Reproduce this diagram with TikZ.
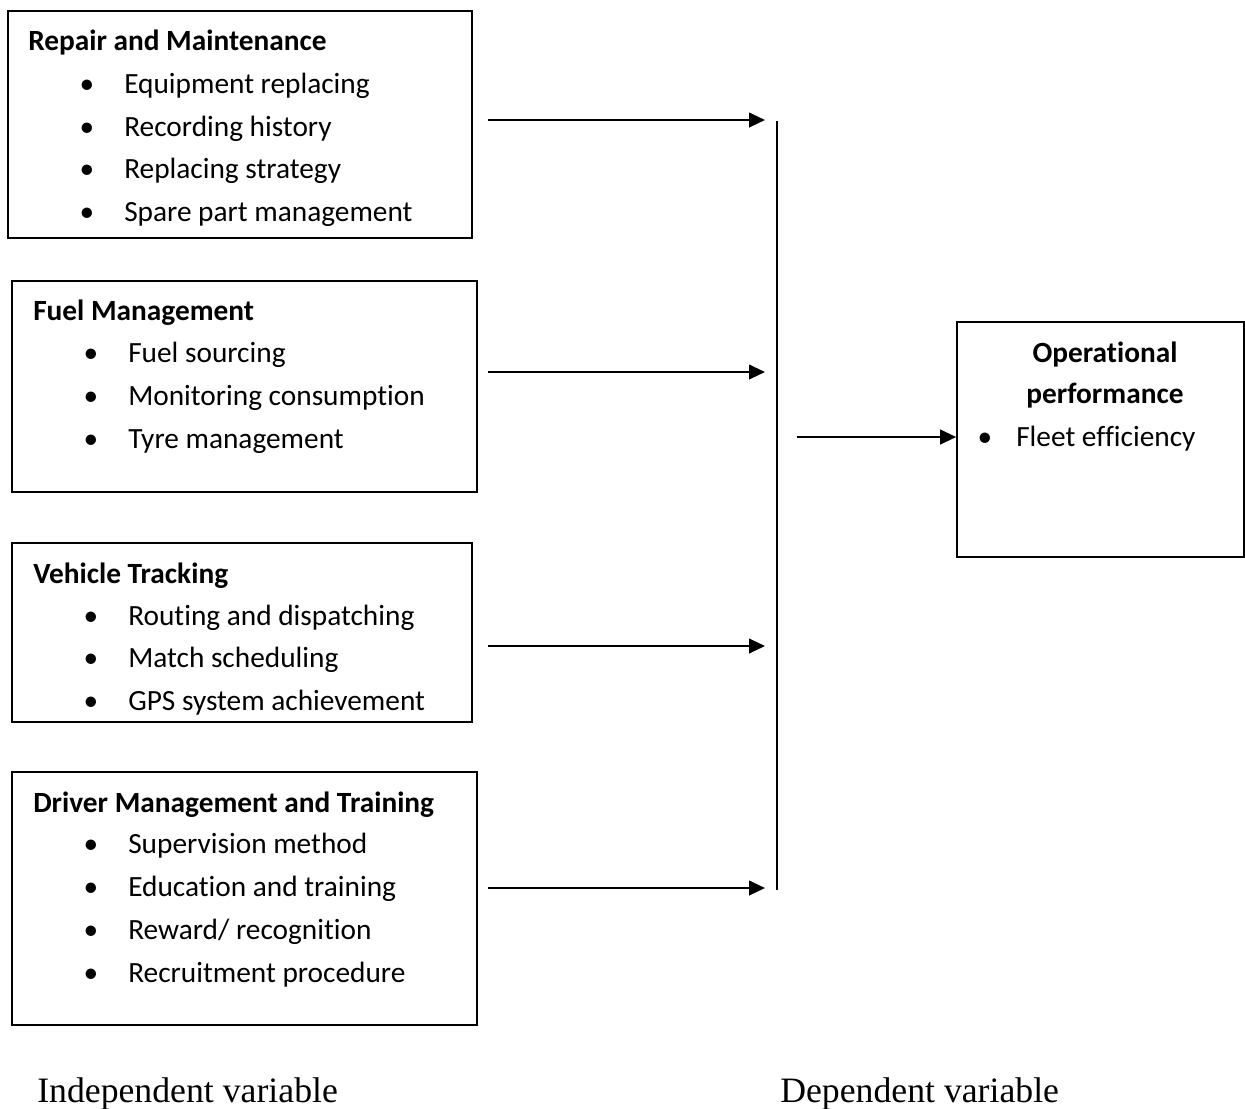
\documentclass[tikz,border=0pt]{standalone}
\usepackage{fontspec}
\setmainfont{Carlito}[Ligatures={NoCommon}]
\newfontfamily\lblfont{Liberation Serif}
\usetikzlibrary{arrows.meta,fit}
\begin{document}
\begin{tikzpicture}[x=0.75pt,y=-0.75pt,
  box/.style={draw,line width=1.2pt,inner sep=0pt},
  txt/.style={anchor=base west,inner sep=0pt,font=\fontsize{22}{26}\selectfont},
  hdr/.style={anchor=base west,inner sep=0pt,font=\fontsize{22}{26}\selectfont\bfseries},
  hdrc/.style={anchor=base,inner sep=0pt,font=\fontsize{22}{26}\selectfont\bfseries},
  bul/.style={anchor=base,inner sep=0pt,font=\fontsize{22}{26}\selectfont},
  conn/.style={line width=1.5pt,-{Triangle[length=12pt,width=11pt]}},
  bar/.style={line width=1.5pt},
  lbl/.style={anchor=base west,inner sep=0pt,font=\fontsize{26.8}{30}\selectfont\lblfont}]
\useasboundingbox (0,0) rectangle (1245,1108);

% boxes
\node[box,fit={(8,11)(472,238)}] (b1) {};
\node[box,fit={(12,281)(477,492)}] (b2) {};
\node[box,fit={(12,543)(472,722)}] (b3) {};
\node[box,fit={(12,772)(477,1025)}] (b4) {};
\node[box,fit={(957,322)(1244,557)}] (b5) {};

% box 1
\node[hdr] (h1) at (28,50) {Repair and Maintenance};
\node[bul] (p11) at (87,93) {\textbullet};
\node[txt] (t11) at (124,93) {Equipment replacing};
\node[bul] (p12) at (87,136) {\textbullet};
\node[txt] (t12) at (124,136) {Recording history};
\node[bul] (p13) at (87,178) {\textbullet};
\node[txt] (t13) at (124,178) {Replacing strategy};
\node[bul] (p14) at (87,221) {\textbullet};
\node[txt] (t14) at (124,221) {Spare part management};

% box 2
\node[hdr] (h2) at (33,320) {Fuel Management};
\node[bul] (p21) at (91,362) {\textbullet};
\node[txt] (t21) at (128,362) {Fuel sourcing};
\node[bul] (p22) at (91,405) {\textbullet};
\node[txt] (t22) at (128,405) {Monitoring consumption};
\node[bul] (p23) at (91,448) {\textbullet};
\node[txt] (t23) at (128,448) {Tyre management};

% box 3
\node[hdr] (h3) at (33,583) {Vehicle Tracking};
\node[bul] (p31) at (91,625) {\textbullet};
\node[txt] (t31) at (128,625) {Routing and dispatching};
\node[bul] (p32) at (91,667) {\textbullet};
\node[txt] (t32) at (128,667) {Match scheduling};
\node[bul] (p33) at (91,710) {\textbullet};
\node[txt] (t33) at (128,710) {GPS system achievement};

% box 4
\node[hdr] (h4) at (33,812) {Driver Management and Training};
\node[bul] (p41) at (91,853) {\textbullet};
\node[txt] (t41) at (128,853) {Supervision method};
\node[bul] (p42) at (91,896) {\textbullet};
\node[txt] (t42) at (128,896) {Education and training};
\node[bul] (p43) at (91,939) {\textbullet};
\node[txt] (t43) at (128,939) {Reward/ recognition};
\node[bul] (p44) at (91,982) {\textbullet};
\node[txt] (t44) at (128,982) {Recruitment procedure};

% box 5
\node[hdrc] (h51) at (1105,362) {Operational};
\node[hdrc] (h52) at (1105,403) {performance};
\node[bul] (p51) at (985,446) {\textbullet};
\node[txt] (t51) at (1016,446) {Fleet efficiency};

% connectors
\coordinate (s1) at (488,120); \coordinate (e1) at (765,120);
\coordinate (s2) at (488,372); \coordinate (e2) at (765,372);
\coordinate (s3) at (488,646); \coordinate (e3) at (765,646);
\coordinate (s4) at (488,888); \coordinate (e4) at (765,888);
\coordinate (vt) at (777,121); \coordinate (vb) at (777,890);
\coordinate (s5) at (797,437);
\draw[conn] (s1) -- (e1);
\draw[conn] (s2) -- (e2);
\draw[conn] (s3) -- (e3);
\draw[conn] (s4) -- (e4);
\draw[bar] (vt) -- (vb);
\draw[conn] (s5) -- (s5 -| b5.west);

% labels
\node[lbl] (l1) at (37,1102) {Independent variable};
\node[lbl] (l2) at (780,1102) {Dependent variable};
\end{tikzpicture}
\end{document}
